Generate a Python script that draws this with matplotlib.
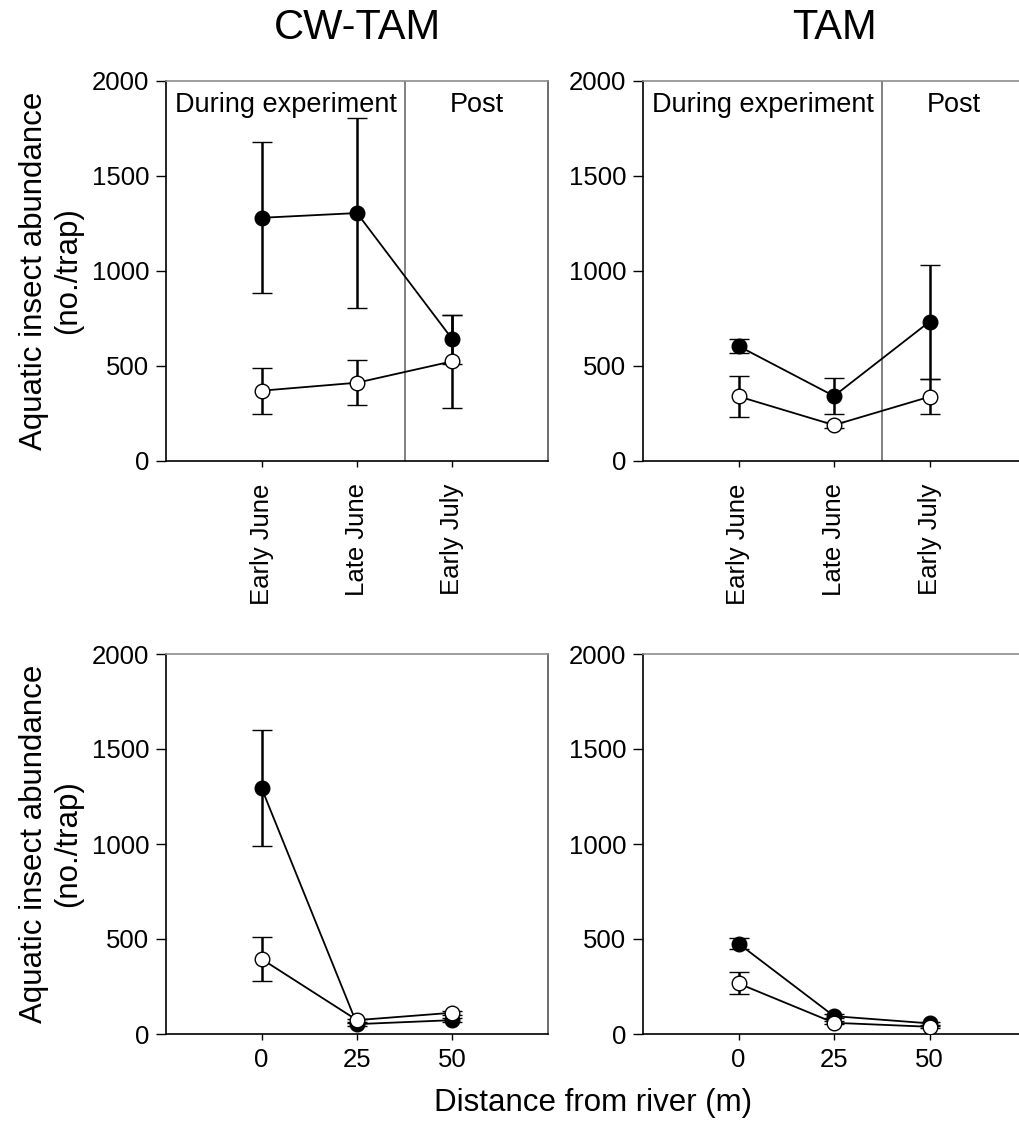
import numpy as np
import matplotlib
matplotlib.use('Agg')
import matplotlib.pyplot as plt

plt.rcParams['font.family'] = ['Liberation Sans', 'DejaVu Sans']

# данные: верхние панели - по времени, нижние - по расстоянию
periods = ['Early June', 'Late June', 'Early July']
distances = [0, 25, 50]

cw_time_filled = [1280, 1305, 640]
cw_time_filled_se = [397, 502, 130]
cw_time_open = [370, 412, 525]
cw_time_open_se = [122, 118, 245]

tam_time_filled = [605, 342, 733]
tam_time_filled_se = [37, 94, 301]
tam_time_open = [340, 189, 338]
tam_time_open_se = [107, 15, 91]

cw_dist_filled = [1295, 52, 73]
cw_dist_filled_se = [305, 8, 10]
cw_dist_open = [395, 73, 112]
cw_dist_open_se = [116, 8, 10]

tam_dist_filled = [476, 94, 56]
tam_dist_filled_se = [31, 10, 8]
tam_dist_open = [266, 59, 38]
tam_dist_open_se = [58, 8, 6]

titles = ['CW-TAM', 'TAM']
ylab = 'Aquatic insect abundance\n(no./trap)'

fig = plt.figure(figsize=(10.19, 11.3), dpi=100)
w = 382 / 1019
h = 380 / 1130
lefts = [166 / 1019, 643 / 1019]
bottoms = [1 - 461 / 1130, 1 - 1034 / 1130]


def style_axes(ax):
    ax.set_ylim(0, 2000)
    ax.set_yticks([0, 500, 1000, 1500, 2000])
    ax.spines['left'].set_color('black')
    ax.spines['bottom'].set_color('black')
    ax.spines['top'].set_color('#8c8c8c')
    ax.spines['right'].set_color('#555555')
    for s in ax.spines.values():
        s.set_linewidth(1.2)
    ax.tick_params(axis='y', direction='out', length=7, width=1, labelsize=18.5, pad=5)
    ax.tick_params(axis='x', direction='out', length=4, width=1, labelsize=18.5, pad=6)


def draw(ax, x, filled, filled_se, opn, opn_se):
    ax.errorbar(x, filled, yerr=filled_se, fmt='-o', color='black', ecolor='black',
                elinewidth=1.8, capsize=7, capthick=1.8, lw=1.3,
                ms=10.5, mfc='black', mec='black', mew=1, zorder=3)
    ax.errorbar(x, opn, yerr=opn_se, fmt='-o', color='black', ecolor='black',
                elinewidth=1.8, capsize=7, capthick=1.8, lw=1.3,
                ms=10.5, mfc='white', mec='black', mew=1, zorder=4)


time_data = [(cw_time_filled, cw_time_filled_se, cw_time_open, cw_time_open_se),
             (tam_time_filled, tam_time_filled_se, tam_time_open, tam_time_open_se)]
dist_data = [(cw_dist_filled, cw_dist_filled_se, cw_dist_open, cw_dist_open_se),
             (tam_dist_filled, tam_dist_filled_se, tam_dist_open, tam_dist_open_se)]

xt = np.arange(1, len(periods) + 1)
for i in range(2):
    ax = fig.add_axes([lefts[i], bottoms[0], w, h])
    draw(ax, xt, *time_data[i])
    ax.set_xlim(0, 4)
    ax.set_xticks(xt)
    ax.set_xticklabels(periods, rotation=90, fontsize=20)
    style_axes(ax)
    ax.tick_params(axis='x', pad=12)
    ax.axvline(2.5, color='#777777', lw=1.3)
    ax.text(0.09, 1875, 'During experiment', fontsize=19.5, va='center', ha='left')
    ax.text(3.25, 1875, 'Post', fontsize=19.5, va='center', ha='center')
    ax.set_title(titles[i], fontsize=30, pad=30)
    if i == 0:
        ax.set_ylabel(ylab, fontsize=22.5, labelpad=6)

for i in range(2):
    ax = fig.add_axes([lefts[i], bottoms[1], w, h])
    draw(ax, distances, *dist_data[i])
    ax.set_xlim(-25, 75)
    ax.set_xticks(distances)
    style_axes(ax)
    if i == 0:
        ax.set_ylabel(ylab, fontsize=22.5, labelpad=6)

fig.text(593 / 1019, 1 - 1103 / 1130, 'Distance from river (m)', fontsize=22.5,
         ha='center', va='center')

fig.savefig('out.png', dpi=100)
